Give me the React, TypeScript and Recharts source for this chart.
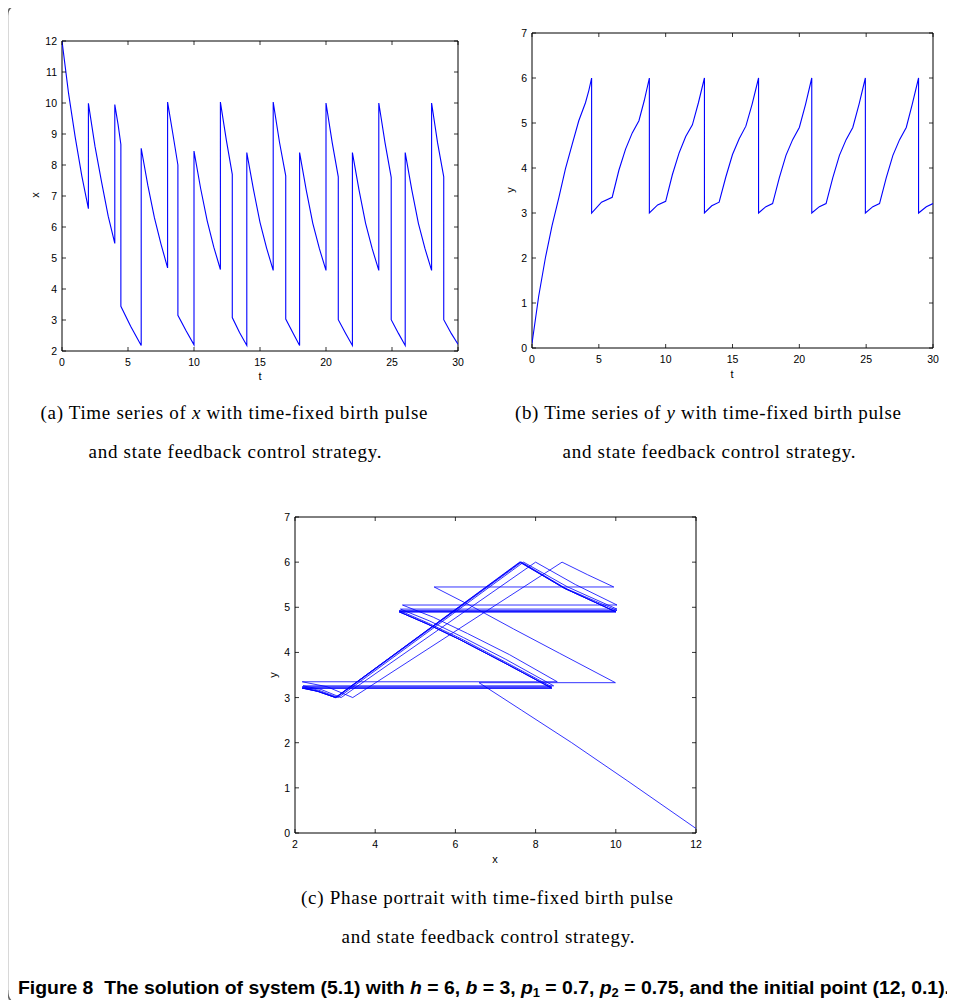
import React from 'react';
import { LineChart, Line, XAxis, YAxis, ReferenceArea } from 'recharts';

// time samples (duplicated times mark impulsive jumps)
const tValues = [
  0, 0.5, 1.0, 1.5, 2.0,
  2.0, 2.5, 3.0, 3.5, 4.0,
  4.0, 4.25, 4.46,
  4.46, 5.2, 6.0,
  6.0, 6.5, 7.0, 7.5, 8.0,
  8.0, 8.4, 8.78,
  8.78, 9.4, 10.0,
  10.0, 10.5, 11.0, 11.5, 12.0,
  12.0, 12.45, 12.9,
  12.9, 13.45, 14.0,
  14.0, 14.5, 15.0, 15.5, 16.0,
  16.0, 16.47, 16.95,
  16.95, 17.5, 18.0,
  18.0, 18.5, 19.0, 19.5, 20.0,
  20.0, 20.47, 20.93,
  20.93, 21.5, 22.0,
  22.0, 22.5, 23.0, 23.5, 24.0,
  24.0, 24.47, 24.94,
  24.94, 25.5, 26.0,
  26.0, 26.5, 27.0, 27.5, 28.0,
  28.0, 28.45, 28.92,
  28.92, 29.5, 30.0,
];

const xValues = [
  12, 10.3, 8.9, 7.65, 6.59,
  9.99, 8.6, 7.45, 6.35, 5.47,
  9.95, 9.3, 8.66,
  3.44, 2.8, 2.18,
  8.54, 7.35, 6.3, 5.45, 4.68,
  10.03, 9.0, 8.0,
  3.15, 2.65, 2.2,
  8.45, 7.25, 6.2, 5.35, 4.63,
  10.03, 8.8, 7.7,
  3.08, 2.6, 2.18,
  8.4, 7.22, 6.15, 5.32, 4.6,
  10.03, 8.75, 7.65,
  3.03, 2.58, 2.18,
  8.4, 7.2, 6.12, 5.3, 4.6,
  10.0, 8.72, 7.62,
  3.01, 2.56, 2.18,
  8.4, 7.2, 6.12, 5.3, 4.6,
  10.0, 8.72, 7.6,
  3.01, 2.56, 2.18,
  8.4, 7.2, 6.12, 5.3, 4.6,
  10.0, 8.72, 7.62,
  3.01, 2.56, 2.22,
];

const yValues = [
  0.1, 1.15, 2.0, 2.72, 3.33,
  3.33, 3.98, 4.52, 5.05, 5.45,
  5.45, 5.72, 6.0,
  3.0, 3.24, 3.35,
  3.35, 3.95, 4.42, 4.78, 5.05,
  5.05, 5.5, 6.0,
  3.0, 3.18, 3.26,
  3.26, 3.85, 4.33, 4.7, 4.96,
  4.96, 5.45, 6.0,
  3.0, 3.16, 3.24,
  3.24, 3.8, 4.3, 4.65, 4.93,
  4.93, 5.42, 6.0,
  3.0, 3.14, 3.21,
  3.21, 3.78, 4.28, 4.63, 4.9,
  4.9, 5.42, 6.0,
  3.0, 3.14, 3.21,
  3.21, 3.78, 4.28, 4.63, 4.9,
  4.9, 5.42, 6.0,
  3.0, 3.14, 3.21,
  3.21, 3.78, 4.28, 4.63, 4.9,
  4.9, 5.42, 6.0,
  3.0, 3.14, 3.21,
];

const tTicks = [0, 5, 10, 15, 20, 25, 30];
const xSeriesTicks = [2, 3, 4, 5, 6, 7, 8, 9, 10, 11, 12];
const xPhaseTicks = [2, 4, 6, 8, 10, 12];
const yTicks = [0, 1, 2, 3, 4, 5, 6, 7];

const rows = tValues.map((t, i) => ({ t, x: xValues[i], y: yValues[i] }));

const BLUE = '#0000ff';
const SANS = '"Liberation Sans", Arial, Helvetica, sans-serif';
const SERIF = '"Liberation Serif", "Times New Roman", serif';

function makeXTick(plotH: number) {
  return (props: any) => {
    const { x, y, payload } = props;
    return (
      <g>
        <line x1={x} y1={y} x2={x} y2={y - 4} stroke="#000" strokeWidth={0.8} />
        <line x1={x} y1={y - plotH} x2={x} y2={y - plotH + 4} stroke="#000" strokeWidth={0.8} />
        <text x={x} y={y + 15} textAnchor="middle" fontSize={10.5} fontFamily={SANS} fill="#000">
          {payload.value}
        </text>
      </g>
    );
  };
}

function makeYTick(plotW: number) {
  return (props: any) => {
    const { x, y, payload } = props;
    return (
      <g>
        <line x1={x} y1={y} x2={x + 4} y2={y} stroke="#000" strokeWidth={0.8} />
        <line x1={x + plotW} y1={y} x2={x + plotW - 4} y2={y} stroke="#000" strokeWidth={0.8} />
        <text x={x - 5} y={y + 4} textAnchor="end" fontSize={10.5} fontFamily={SANS} fill="#000">
          {payload.value}
        </text>
      </g>
    );
  };
}

type PanelProps = {
  left: number;
  top: number;
  width: number;
  height: number;
  xKey: string;
  yKey: string;
  xDomain: [number, number];
  yDomain: [number, number];
  xTicks: number[];
  yTicks: number[];
  sw: number;
};

function Panel({ left, top, width, height, xKey, yKey, xDomain, yDomain, xTicks, yTicks, sw }: PanelProps) {
  const margin = { top: 10, right: 10, bottom: 0, left: 0 };
  const plotW = width - 40 - 10;
  const plotH = height - 10 - 20;
  return (
    <div style={{ position: 'absolute', left, top, width, height }}>
      <LineChart width={width} height={height} data={rows} margin={margin}>
        <XAxis
          dataKey={xKey}
          type="number"
          domain={xDomain}
          ticks={xTicks}
          interval={0}
          height={20}
          tickSize={0}
          tickMargin={0}
          tickLine={false}
          axisLine={false}
          tick={makeXTick(plotH)}
          allowDataOverflow
        />
        <YAxis
          type="number"
          domain={yDomain}
          ticks={yTicks}
          interval={0}
          width={40}
          tickSize={0}
          tickMargin={0}
          tickLine={false}
          axisLine={false}
          tick={makeYTick(plotW)}
          allowDataOverflow
        />
        <Line
          dataKey={yKey}
          type="linear"
          stroke={BLUE}
          strokeWidth={sw}
          dot={false}
          activeDot={false}
          isAnimationActive={false}
        />
        <ReferenceArea
          x1={xDomain[0]}
          x2={xDomain[1]}
          y1={yDomain[0]}
          y2={yDomain[1]}
          fill="none"
          fillOpacity={0}
          stroke="#000"
          strokeWidth={1}
          ifOverflow="visible"
        />
      </LineChart>
    </div>
  );
}

export default function App() {
  return (
    <div
      style={{
        position: 'relative',
        width: 955,
        height: 1008,
        margin: -8,
        background: '#fff',
        overflow: 'hidden',
      }}
    >
      <svg
        width={955}
        height={1008}
        style={{ position: 'absolute', left: 0, top: 0 }}
      >
        <path
          d="M 7.5 1003 L 7.5 16 Q 7.5 5.5 18 5.5 L 960 5.5"
          fill="none"
          stroke="#666"
          strokeWidth={1.5}
        />
        <path d="M 7.5 990 Q 7.5 1001 16 1004" fill="none" stroke="#666" strokeWidth={1.5} />

        {/* axis labels */}
        <text x={35} y={199} fontSize={11} fontFamily={SANS} textAnchor="middle" transform="rotate(-90 35 195)">x</text>
        <text x={260} y={380} fontSize={11} fontFamily={SANS} textAnchor="middle">t</text>
        <text x={510} y={194} fontSize={11} fontFamily={SANS} textAnchor="middle" transform="rotate(-90 510 190)">y</text>
        <text x={732} y={378} fontSize={11} fontFamily={SANS} textAnchor="middle">t</text>
        <text x={273} y={679} fontSize={11} fontFamily={SANS} textAnchor="middle" transform="rotate(-90 273 675)">y</text>
        <text x={495} y={863} fontSize={11} fontFamily={SANS} textAnchor="middle">x</text>

        {/* captions */}
        <text x={234} y={419} fontSize={19} fontFamily={SERIF} textAnchor="middle" textLength={387}>
          (a) Time series of <tspan fontStyle="italic">x</tspan> with time-fixed birth pulse
        </text>
        <text x={235} y={458} fontSize={19} fontFamily={SERIF} textAnchor="middle" textLength={293}>
          and state feedback control strategy.
        </text>
        <text x={708} y={419} fontSize={19} fontFamily={SERIF} textAnchor="middle" textLength={386}>
          (b) Time series of <tspan fontStyle="italic">y</tspan> with time-fixed birth pulse
        </text>
        <text x={709} y={458} fontSize={19} fontFamily={SERIF} textAnchor="middle" textLength={293}>
          and state feedback control strategy.
        </text>
        <text x={487} y={904} fontSize={19} fontFamily={SERIF} textAnchor="middle" textLength={372}>
          (c) Phase portrait with time-fixed birth pulse
        </text>
        <text x={488} y={943} fontSize={19} fontFamily={SERIF} textAnchor="middle" textLength={293}>
          and state feedback control strategy.
        </text>

        {/* figure title */}
        <text x={18} y={994} fontSize={18} fontFamily={SANS} fontWeight="bold" textLength={932} lengthAdjust="spacingAndGlyphs">
          Figure 8{'\u00a0\u00a0'}The solution of system (5.1) with <tspan fontStyle="italic">h</tspan> = 6, <tspan fontStyle="italic">b</tspan> = 3, <tspan fontStyle="italic">p</tspan><tspan fontSize={12} dy={3}>1</tspan><tspan dy={-3}> = 0.7, </tspan><tspan fontStyle="italic">p</tspan><tspan fontSize={12} dy={3}>2</tspan><tspan dy={-3}> = 0.75, and the initial point (12, 0.1).</tspan>
        </text>
      </svg>

      <Panel left={22} top={31} width={446} height={340} xKey="t" yKey="x" xDomain={[0, 30]} yDomain={[2, 12]} xTicks={tTicks} yTicks={xSeriesTicks} sw={1.1} />
      <Panel left={492} top={23} width={451} height={345} xKey="t" yKey="y" xDomain={[0, 30]} yDomain={[0, 7]} xTicks={tTicks} yTicks={yTicks} sw={1.1} />
      <Panel left={255} top={507} width={451} height={346} xKey="x" yKey="y" xDomain={[2, 12]} yDomain={[0, 7]} xTicks={xPhaseTicks} yTicks={yTicks} sw={0.8} />
    </div>
  );
}
